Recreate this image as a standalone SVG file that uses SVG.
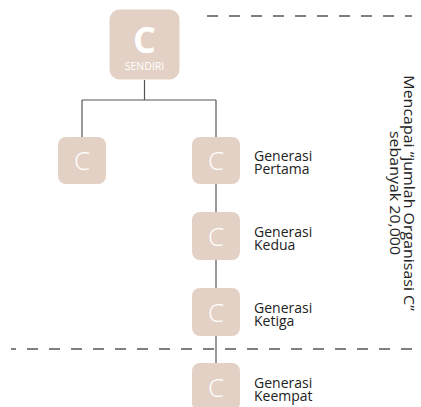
<svg xmlns="http://www.w3.org/2000/svg" width="421" height="407" viewBox="0 0 421 407">
  <defs>
    <style>
      .box { fill: #e3d1c5; }
      .wire { fill: none; stroke: #555555; stroke-width: 1.2; }
      .dash { fill: none; stroke: #555555; stroke-width: 1.5; stroke-dasharray: 11 11; }
      .glyph { font-family: "Open Sans", "Noto Sans", sans-serif; fill: #ffffff; text-anchor: middle; }
      .big { font-size: 36px; font-weight: 700; }
      .small { font-size: 26px; font-weight: 300; }
      .tag { font-size: 10.5px; }
      .label { font-family: "Open Sans", "Noto Sans", sans-serif; font-size: 14px; fill: #222222; }
      .note { text-anchor: middle; }
    </style>
  </defs>

  <rect width="421" height="407" fill="#ffffff"/>

  <!-- dashed range markers -->
  <g id="markers">
    <path class="dash" d="M207 16 H412"/>
    <path class="dash" d="M412 349 H11"/>
  </g>

  <!-- connectors -->
  <g id="connectors">
    <path class="wire" d="M144.5 80 V100 M82 100 H216 M82 100 V137 M216 100 V137"/>
    <path class="wire" d="M216 184 V212 M216 260 V288 M216 336 V363"/>
  </g>

  <g id="self">
    <rect class="box" x="109.5" y="9.5" width="70" height="70" rx="10"/>
    <text class="glyph big" x="144.5" y="53">C</text>
    <text class="glyph tag" x="144.5" y="70">SENDIRI</text>
  </g>

  <g id="sibling">
    <rect class="box" x="58" y="137" width="48" height="47" rx="8"/>
    <text class="glyph small" x="82" y="170">C</text>
  </g>

  <g id="gen1">
    <rect class="box" x="192" y="137" width="48" height="47" rx="8"/>
    <text class="glyph small" x="216" y="170">C</text>
    <text class="label" x="254" y="160.5">Generasi<tspan x="254" dy="13.5">Pertama</tspan></text>
  </g>

  <g id="gen2">
    <rect class="box" x="192" y="212" width="48" height="48" rx="8"/>
    <text class="glyph small" x="216" y="245.5">C</text>
    <text class="label" x="254" y="236.5">Generasi<tspan x="254" dy="13.5">Kedua</tspan></text>
  </g>

  <g id="gen3">
    <rect class="box" x="192" y="288" width="48" height="48" rx="8"/>
    <text class="glyph small" x="216" y="321.5">C</text>
    <text class="label" x="254" y="312.5">Generasi<tspan x="254" dy="13.5">Ketiga</tspan></text>
  </g>

  <g id="gen4">
    <rect class="box" x="192" y="363" width="48" height="48" rx="8"/>
    <text class="glyph small" x="216" y="396.5">C</text>
    <text class="label" x="254" y="387.5">Generasi<tspan x="254" dy="13.5">Keempat</tspan></text>
  </g>

  <!-- vertical note, reading downwards, slightly stretched along the line -->
  <g id="note" transform="translate(404 193) rotate(90) scale(1.14 1)">
    <text class="label note" x="0" y="0">Mencapai “jumlah Organisasi C”<tspan x="0" dy="14">sebanyak 20,000</tspan></text>
  </g>
</svg>
